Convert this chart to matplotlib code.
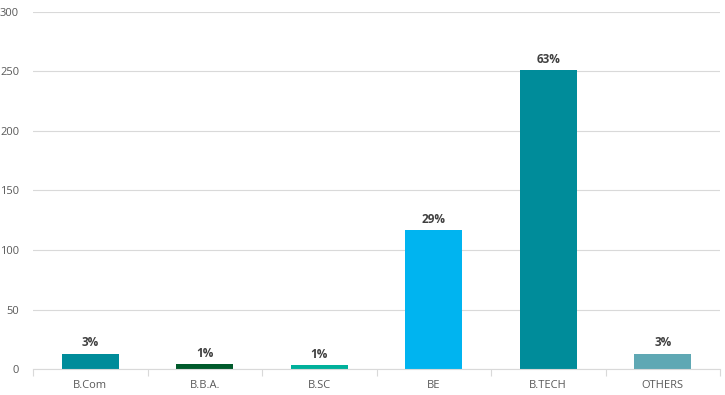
import matplotlib
matplotlib.use("Agg")
import matplotlib.pyplot as plt
import numpy as np

categories = ["B.Com", "B.B.A.", "B.SC", "BE", "B.TECH", "OTHERS"]
counts = [13, 4, 3, 117, 251, 13]
pct_labels = ["3%", "1%", "1%", "29%", "63%", "3%"]
colors = ["#008C9A", "#005A2B", "#00B09B", "#00B4F0", "#008C9A", "#5FA8B4"]

plt.rcParams["font.family"] = ["Open Sans", "DejaVu Sans"]

fig = plt.figure(figsize=(7.25, 3.95), dpi=100, facecolor="white")
ax = fig.add_axes([33 / 725, 26 / 395, 687 / 725, 357 / 395])

x = np.arange(len(categories))
bars = ax.bar(x, counts, width=0.5, color=colors, zorder=3)

for b, lab in zip(bars, pct_labels):
    ax.annotate(lab, (b.get_x() + b.get_width() / 2, b.get_height()),
                xytext=(0, 3), textcoords="offset points",
                ha="center", va="bottom", fontsize=8.5, fontweight="bold",
                color="#404040")

ax.set_xlim(-0.5, len(categories) - 0.5)
ax.set_ylim(0, 300)
ax.set_yticks(range(0, 301, 50))
ax.grid(axis="y", color="#D9D9D9", linewidth=0.8, zorder=0)

ax.set_xticks(x)
ax.set_xticklabels(categories)
ax.set_xticks(np.arange(-0.5, len(categories), 1), minor=True)
ax.tick_params(axis="x", which="major", length=0, pad=8, labelsize=8, labelcolor="#595959")
ax.tick_params(axis="x", which="minor", length=5, color="#D9D9D9", width=0.8)
ax.tick_params(axis="y", length=0, pad=10, labelsize=8, labelcolor="#595959")

for s in ["top", "right", "left"]:
    ax.spines[s].set_visible(False)
ax.spines["bottom"].set_color("#D9D9D9")
ax.spines["bottom"].set_linewidth(0.8)
ax.spines["bottom"].set_zorder(4)

fig.savefig("out.png", dpi=100, facecolor="white")
